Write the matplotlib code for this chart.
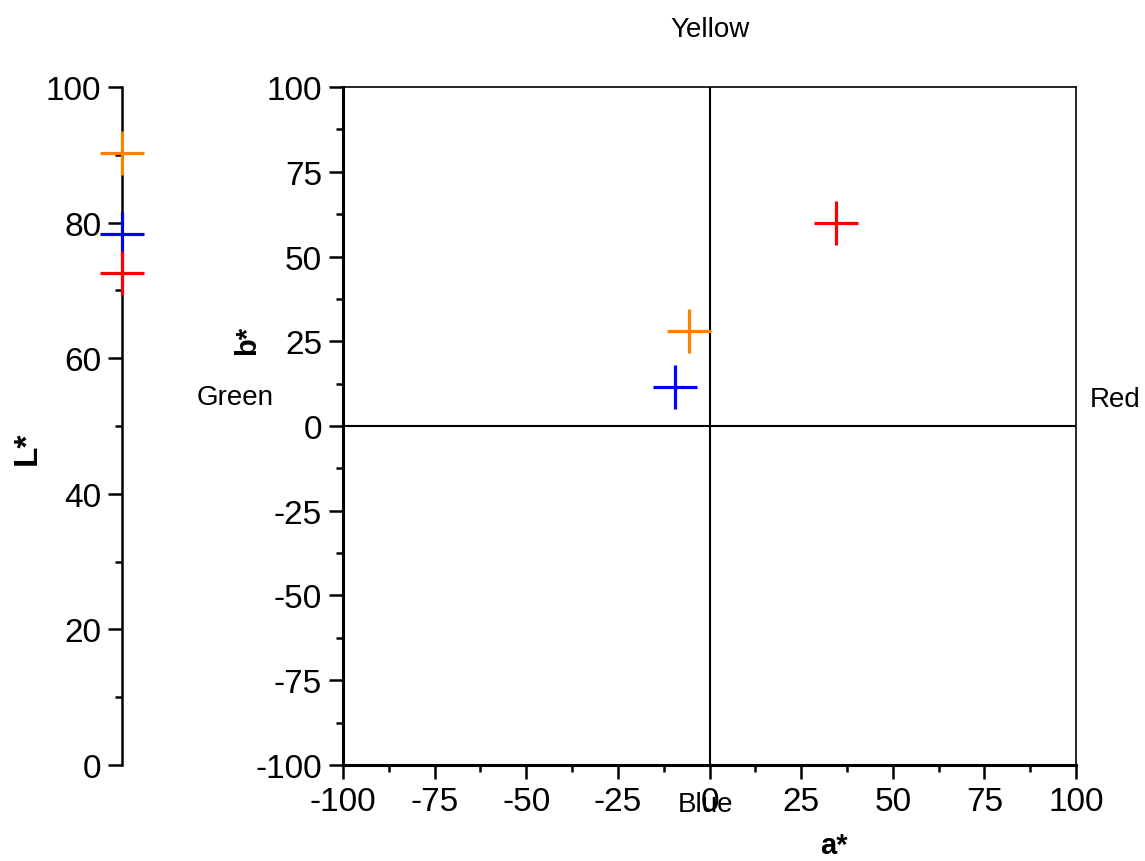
import numpy as np
import matplotlib
matplotlib.use("Agg")
import matplotlib.pyplot as plt

plt.rcParams['font.family'] = ['Liberation Sans', 'DejaVu Sans']
plt.rcParams['axes.unicode_minus'] = False

# CIELAB values of the three samples
colors = ["#ff8000", "#0000ff", "#ff0000"]
a_star = [-5.5, -9.4, 34.5]
b_star = [28.1, 11.4, 59.8]
l_star = [90.2, 78.3, 72.6]

fig = plt.figure(figsize=(11.45, 8.62), dpi=100)

# main a*/b* plane
ax = fig.add_axes([0.2996, 0.1114, 0.6402, 0.7865])
ax.set_xlim(-100, 100)
ax.set_ylim(-100, 100)
ax.axhline(0, color="black", lw=1.5, zorder=1)
ax.axvline(0, color="black", lw=1.5, zorder=1)
for a, b, c in zip(a_star, b_star, colors):
    ax.plot(a, b, marker="+", ms=31, mew=2.3, color=c, ls="none", zorder=3)

ax.set_xticks(np.arange(-100, 101, 25))
ax.set_yticks(np.arange(-100, 101, 25))
ax.set_xticks(np.arange(-100, 101, 12.5), minor=True)
ax.set_yticks(np.arange(-100, 101, 12.5), minor=True)
ax.tick_params(which="major", direction="out", length=10, width=1.8, labelsize=24, pad=5)
ax.tick_params(which="minor", direction="out", length=5, width=1.8)
ax.tick_params(top=False, right=False, which="both")
ax.spines["left"].set_linewidth(2.2)
ax.spines["bottom"].set_linewidth(2.2)
ax.spines["top"].set_linewidth(1.2)
ax.spines["right"].set_linewidth(1.2)

ax.set_xlabel("a*", fontsize=21, fontweight="bold")
ax.set_ylabel("b*", fontsize=21, fontweight="bold")
ax.xaxis.set_label_coords(0.67, -0.098)
ax.yaxis.set_label_coords(-0.112, 0.627)

ax.text(-0.01, 1.085, "Yellow", transform=ax.get_xaxis_transform(), ha="center", va="center", fontsize=20)
ax.text(-0.2, 0.543, "Green", transform=ax.transAxes, ha="left", va="center", fontsize=20)
ax.text(1.018, 0.54, "Red", transform=ax.transAxes, ha="left", va="center", fontsize=20)
ax.text(-1, -0.058, "Blue", transform=ax.get_xaxis_transform(), ha="center", va="center", fontsize=20)

# L* scale
axl = fig.add_axes([0.0866, 0.1114, 0.04, 0.7865])
axl.set_xlim(-1, 1)
axl.set_ylim(0, 100)
for s in ["top", "right", "bottom"]:
    axl.spines[s].set_visible(False)
axl.spines["left"].set_position(("data", 0))
axl.spines["left"].set_linewidth(1.8)
axl.set_xticks([])
axl.set_yticks(np.arange(0, 101, 20))
axl.set_yticks(np.arange(0, 101, 10), minor=True)
axl.tick_params(which="major", direction="out", length=10, width=1.8, labelsize=24, pad=5)
axl.tick_params(which="minor", direction="out", length=5, width=1.8)
axl.patch.set_visible(False)
for v, c in zip(l_star, colors):
    axl.plot(0, v, marker="+", ms=31, mew=2.3, color=c, ls="none", clip_on=False, zorder=3)
axl.set_ylabel("L*", fontsize=24, fontweight="bold")
axl.yaxis.set_label_coords(-1.23, 0.468)

fig.savefig("out.png", dpi=100)
